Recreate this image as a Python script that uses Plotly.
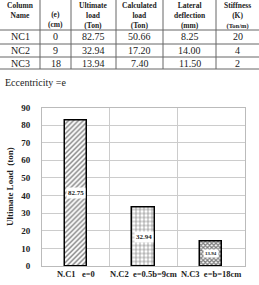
import plotly.graph_objects as go

W, H = 259, 285

# ---- data ----
col_names = ["NC1", "NC2", "NC3"]
ecc_cm = [0, 9, 18]
ultimate = [82.75, 32.94, 13.94]
calculated = [50.66, 17.20, 7.40]
deflection = [8.25, 14.00, 11.50]
stiffness = [20, 4, 2]
headers = ["Column<br>Name", "(e)<br>(cm)", "Ultimate<br>load<br>(Ton)",
           "Calculated<br>load<br>(Ton)", "Lateral<br>deflection<br>(mm)",
           "Stiffness<br>(K)<br><span style='font-size:6.5px'>(Ton/m)</span>"]
bar_labels = ["N.C1\u00a0\u00a0\u00a0e=0", "N.C2\u00a0\u00a0e=0.5b=9cm", "N.C3\u00a0\u00a0e=b=18cm"]
patterns = ["/", "+", "x"]
y_title = "Ultimate Load  (ton)"
note = "Eccentricity =e"

SERIF = "Liberation Serif"

def px(x):
    return x / W

def py(y):
    return 1 - y / H

fig = go.Figure()
xs = list(range(len(ultimate)))
for i, v in enumerate(ultimate):
    fig.add_trace(go.Bar(
        x=[xs[i]], y=[v], width=0.33,
        marker=dict(color="white", line=dict(color="black", width=1.5),
                    pattern=dict(shape=patterns[i], fgcolor="black", bgcolor="white",
                                 size=[3.5, 4, 3][i], solidity=[0.4, 0.3, 0.65][i])),
        showlegend=False, hoverinfo="skip"))
    fig.add_annotation(x=xs[i], y=v / 2, xref="x", yref="y", text="<b>%.2f</b>" % v,
                       showarrow=False, bgcolor="white", xanchor="center", yanchor="middle",
                       font=dict(family=SERIF, size=[7, 7, 5][i], color="#222"),
                       borderpad=1)

fig.update_layout(
    width=W, height=H, margin=dict(l=0, r=0, t=0, b=0),
    paper_bgcolor="white", plot_bgcolor="white", bargap=0,
    xaxis=dict(domain=[px(42), px(245)], range=[-0.5, 2.5], tickmode="array",
               tickvals=xs, ticktext=bar_labels, showgrid=False, zeroline=False,
               showline=True, linecolor="#bbbbbb", mirror=True, ticks="",
               tickfont=dict(family=SERIF, size=8.5, color="#222", weight="bold"),
               minor=dict(tick0=-0.5, dtick=1, showgrid=True, gridcolor="#cccccc", gridwidth=1),
               automargin=False, fixedrange=True),
    yaxis=dict(domain=[py(266), py(107.5)], range=[0, 90], dtick=10,
               showgrid=True, gridcolor="#cccccc", zeroline=False,
               showline=True, linecolor="#bbbbbb", mirror=True, ticks="",
               ticklabelstandoff=9,
               tickfont=dict(family=SERIF, size=9, color="#222", weight="bold"),
               title=dict(text="<b>" + y_title + "</b>", standoff=6,
                          font=dict(family=SERIF, size=9, color="#222")),
               automargin=False, fixedrange=True),
)

# ---- table drawn above the chart ----
col_edges = [0, 40, 71, 116, 163, 216, 259]
row_lines = [30, 44, 57, 69]
line_col = "#666666"
for y in row_lines:
    fig.add_shape(type="line", xref="paper", yref="paper", x0=0, x1=1, y0=py(y), y1=py(y),
                  line=dict(color=line_col, width=1))
for x in col_edges[1:-1]:
    fig.add_shape(type="line", xref="paper", yref="paper", x0=px(x), x1=px(x), y0=py(0), y1=py(69),
                  line=dict(color=line_col, width=1))

header_cy = [10.7, 19.5, 15.3, 15.3, 15.3, 15.3]
for j, h in enumerate(headers):
    cx = (col_edges[j] + col_edges[j + 1]) / 2
    fig.add_annotation(x=px(cx), y=py(header_cy[j]), xref="paper", yref="paper",
                       xanchor="center", yanchor="middle",
                       text="<b>" + h + "</b>", showarrow=False,
                       font=dict(family=SERIF, size=7.5, color="#222"))

row_cy = [37, 50.5, 63]
for i in range(len(col_names)):
    vals = [col_names[i], str(ecc_cm[i]), "%.2f" % ultimate[i], "%.2f" % calculated[i],
            "%.2f" % deflection[i], str(stiffness[i])]
    for j, t in enumerate(vals):
        cx = (col_edges[j] + col_edges[j + 1]) / 2
        fig.add_annotation(x=px(cx), y=py(row_cy[i]), xref="paper", yref="paper",
                           xanchor="center", yanchor="middle",
                           text=t, showarrow=False,
                           font=dict(family=SERIF, size=10, color="#222"))

fig.add_annotation(x=px(3), y=py(82), xref="paper", yref="paper", xanchor="left",
                   yanchor="middle",
                   text=note, showarrow=False, font=dict(family=SERIF, size=10, color="#222"))

fig.write_html("out.html")
